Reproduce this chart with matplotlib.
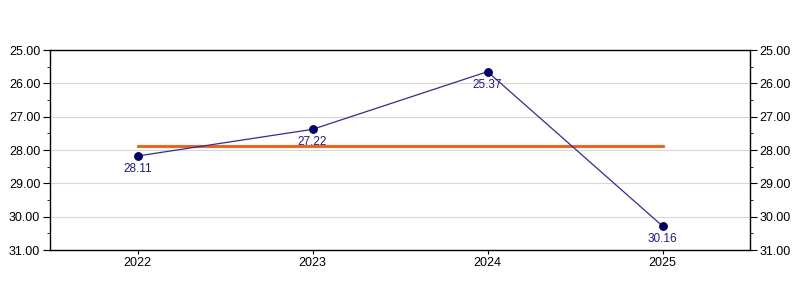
import matplotlib
matplotlib.use("Agg")
import matplotlib.pyplot as plt
from matplotlib.ticker import MultipleLocator, FormatStrFormatter

# ===== data =====
years = [2022, 2023, 2024, 2025]
values = [28.18, 27.38, 25.65, 30.28]
point_labels = ["28.11", "27.22", "25.37", "30.16"]
ref_level = 27.87

plt.rcParams["font.family"] = ["Liberation Sans", "DejaVu Sans"]

fig = plt.figure(figsize=(8, 3), dpi=100)
ax = fig.add_axes([50 / 800, 50 / 300, 700 / 800, 200 / 300])

ax.plot([years[0], years[-1]], [ref_level, ref_level], color="#ff5500", lw=2, zorder=2)
ax.plot(years, values, color="#2b2bb0", lw=0.9, marker="o", markersize=5.5,
        markerfacecolor="#000080", markeredgecolor="#000040", markeredgewidth=0.8, zorder=3)

for x, v, lab in zip(years, values, point_labels):
    ax.annotate(lab, (x, v), xytext=(0, -5), textcoords="offset points",
                ha="center", va="top", fontsize=8.5, color="#1a1a99")

ax.set_xlim(2021.5, 2025.5)
ax.set_ylim(31, 25)
ax.set_xticks(years)
ax.set_xticklabels([str(y) for y in years])
ax.yaxis.set_major_locator(MultipleLocator(1))
ax.yaxis.set_minor_locator(MultipleLocator(0.5))
ax.yaxis.set_major_formatter(FormatStrFormatter("%.2f"))
ax.tick_params(axis="y", which="both", left=True, right=True, labelleft=True, labelright=True,
               labelsize=9, direction="out", pad=2)
ax.tick_params(axis="y", which="major", length=5)
ax.tick_params(axis="y", which="minor", length=2.5)
ax.tick_params(axis="x", labelsize=9, length=3, pad=2)
ax.grid(axis="y", color="#d8d8d8", lw=0.8, zorder=0)
ax.set_axisbelow(True)
for s in ax.spines.values():
    s.set_color("black")
    s.set_linewidth(1)

fig.savefig("out.png", dpi=100)
